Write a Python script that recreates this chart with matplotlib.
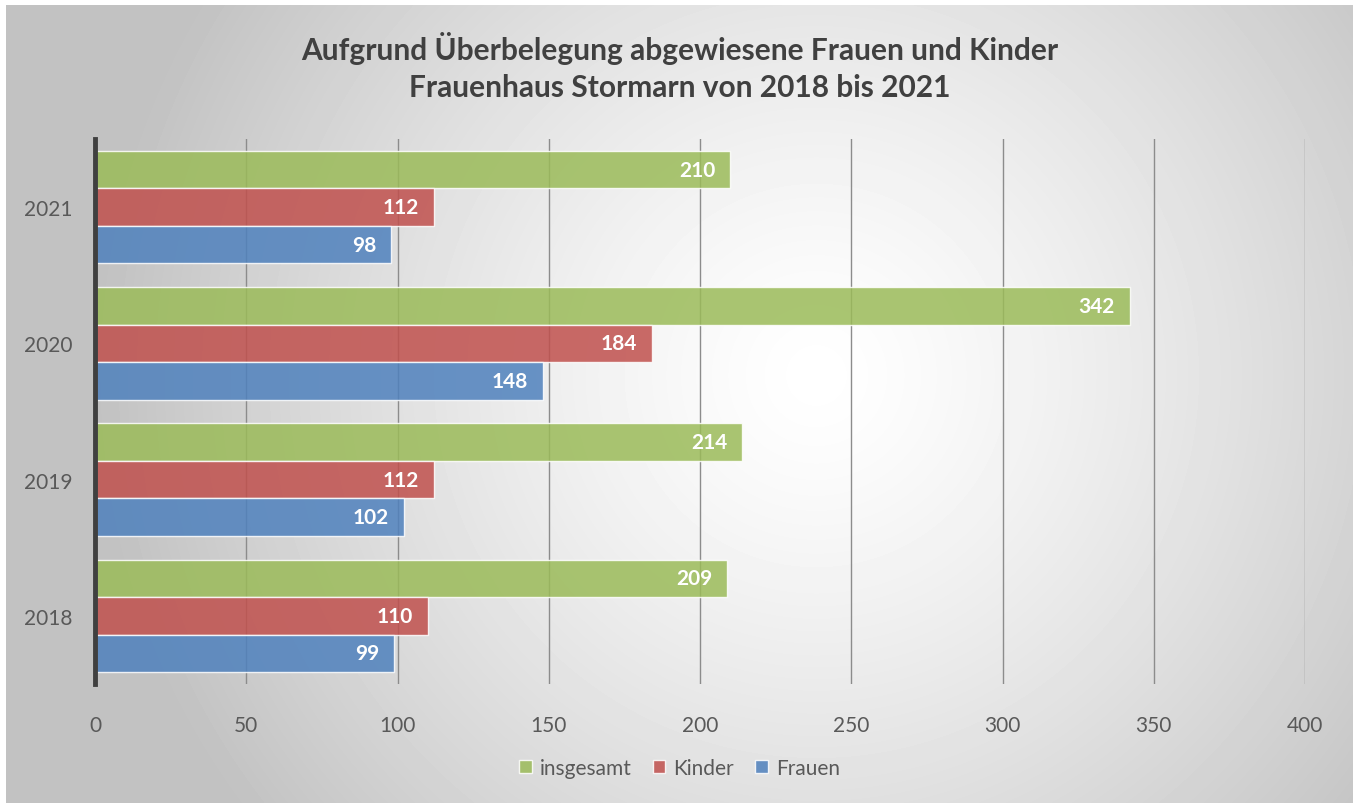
import numpy as np
import matplotlib
matplotlib.use('Agg')
import matplotlib.pyplot as plt

plt.rcParams['font.family'] = ['Lato', 'DejaVu Sans']

years = ['2018', '2019', '2020', '2021']
frauen = [99, 102, 148, 98]
kinder = [110, 112, 184, 112]
insgesamt = [209, 214, 342, 210]
series_names = ['insgesamt', 'Kinder', 'Frauen']
colors = ['#9BBB59', '#C0504D', '#4F81BD']
title = 'Aufgrund Überbelegung abgewiesene Frauen und Kinder\nFrauenhaus Stormarn von 2018 bis 2021'
textColor = '#595959'

W, H = 1359, 804
fig = plt.figure(figsize=(W / 100, H / 100), dpi=100)
fig.patch.set_facecolor('white')

# background radial gradient
bg = fig.add_axes([6 / W, 0, (1353 - 6) / W, (804 - 6) / H])
bg.set_axis_off()
yy, xx = np.mgrid[0:798, 0:1347]
r = np.sqrt((xx - 810) ** 2 + (yy - 370) ** 2)
shade = 1.0 - 0.24 * np.clip(r / 720, 0, 1) ** 1.3
bg.imshow(shade, cmap='gray', vmin=0, vmax=1, aspect='auto', interpolation='bilinear')

ax = fig.add_axes([95 / W, 1 - 685 / H, (1305 - 95) / W, (685 - 140) / H])
ax.patch.set_alpha(0)

y = np.arange(len(years))
h = 0.275
offsets = [h, 0, -h]
allData = [insgesamt, kinder, frauen]
for data, off, col, name in zip(allData, offsets, colors, series_names):
    bars = ax.barh(y + off, data, height=h, color=col, alpha=0.85, edgecolor='#ffffff', linewidth=1,
                   label=name, zorder=3)
    for b, v in zip(bars, data):
        ax.text(v - 5, b.get_y() + b.get_height() / 2, str(v), ha='right', va='center',
                color='white', fontsize=15, fontweight='bold', zorder=4)

ax.set_xlim(0, 400)
ax.set_ylim(-0.5, 3.5)
ax.set_xticks(np.arange(0, 401, 50))
ax.set_yticks(y)
ax.set_yticklabels(years)
ax.grid(axis='x', color='#8c8c8c', linewidth=1, zorder=0)
ax.set_axisbelow(True)
for s in ['top', 'right', 'bottom']:
    ax.spines[s].set_visible(False)
ax.spines['left'].set_linewidth(3.5)
ax.spines['left'].set_color('#404040')
ax.spines['left'].set_zorder(5)
ax.tick_params(axis='both', length=0, labelsize=15, labelcolor=textColor)
ax.tick_params(axis='x', pad=22)
ax.tick_params(axis='y', pad=16)

fig.text(0.5, 1 - 67 / H, title, ha='center', va='center', fontsize=21.5, fontweight='bold',
         color='#404040', linespacing=1.4)

handles, labels = ax.get_legend_handles_labels()
fig.legend(handles, labels, loc='center', bbox_to_anchor=(0.5, 1 - 769 / H), ncol=3, frameon=False,
           fontsize=15, labelcolor=textColor, handlelength=0.6, handleheight=0.6, handletextpad=0.4,
           columnspacing=1.0)

fig.savefig('out.png', dpi=100)
